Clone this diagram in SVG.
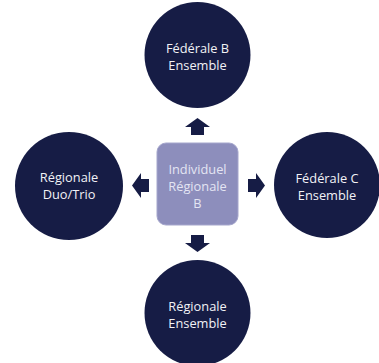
<svg xmlns="http://www.w3.org/2000/svg" width="379" height="363" viewBox="0 0 379 363">
<style>
.c{fill:#161c45}
.t{font-family:"Open Sans","Liberation Sans",sans-serif;font-size:12.8px;fill:#f2f2f6;text-anchor:middle}
.tc{font-family:"Open Sans","Liberation Sans",sans-serif;font-size:12.8px;fill:#e4e5f3;text-anchor:middle}
.a{fill:#161c45}
</style>
<rect width="379" height="363" fill="#ffffff"/>
<g id="connectors">
<polygon class="a" points="197.5,118 210,127 204,127 204,135 191,135 191,127 185,127"/>
<polygon class="a" points="197.5,252 210,243 204,243 204,235 191,235 191,243 185,243"/>
<polygon class="a" points="132,185.5 141,173 141,179 149,179 149,192 141,192 141,198"/>
<polygon class="a" points="265,185.5 256,173 256,179 248,179 248,192 256,192 256,198"/>
</g>
<g id="center">
<rect x="157" y="143" width="81" height="82" rx="9" fill="#8d8ebc" stroke="#a5a6cc" stroke-width="1"/>
<text class="tc" x="197.5" y="174">Individuel</text>
<text class="tc" x="197.5" y="191">Régionale</text>
<text class="tc" x="197.5" y="208">B</text>
</g>
<g id="top">
<circle class="c" cx="197.5" cy="55" r="53"/>
<text class="t" x="197.5" y="53">Fédérale B</text>
<text class="t" x="197.5" y="70">Ensemble</text>
</g>
<g id="left">
<circle class="c" cx="69" cy="186" r="54"/>
<text class="t" x="69" y="182">Régionale</text>
<text class="t" x="69" y="199">Duo/Trio</text>
</g>
<g id="right">
<circle class="c" cx="327" cy="185" r="53"/>
<text class="t" x="327" y="183">Fédérale C</text>
<text class="t" x="327" y="200">Ensemble</text>
</g>
<g id="bottom">
<circle class="c" cx="197.5" cy="313" r="53"/>
<text class="t" x="197.5" y="311">Régionale</text>
<text class="t" x="197.5" y="328">Ensemble</text>
</g>
</svg>
